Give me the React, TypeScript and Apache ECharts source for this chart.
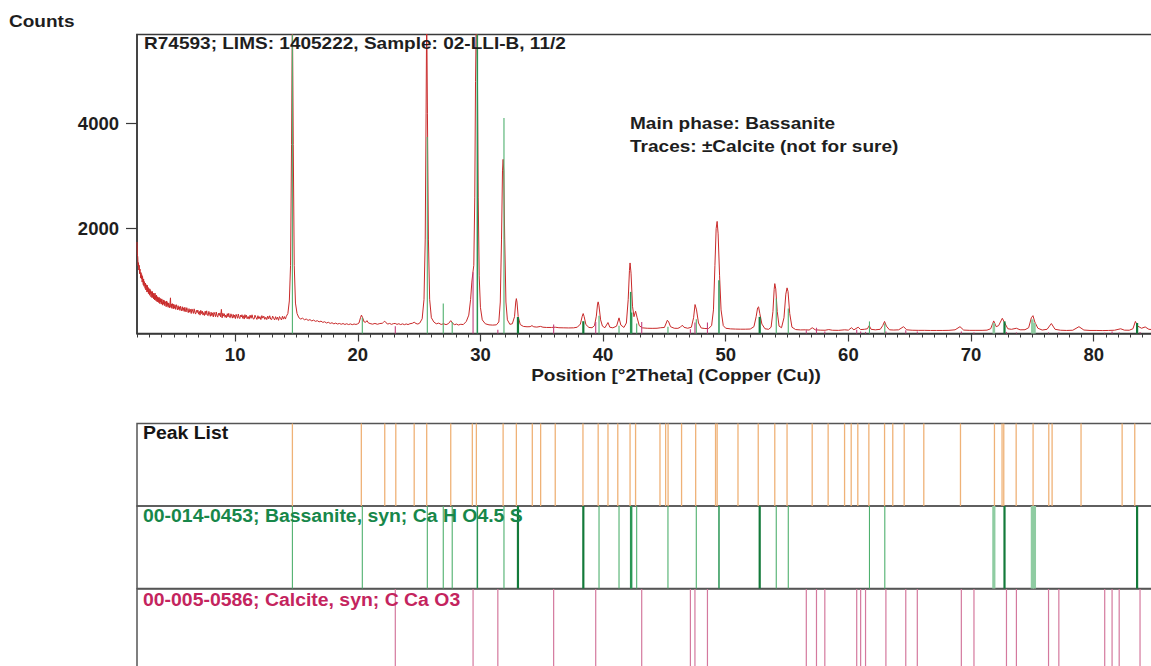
import React, { useEffect, useRef } from "react";
import * as echarts from "echarts";

// ---------- data ----------
const X_MIN = 2;
const X_MAX = 85;
const Y_MIN = 0;
const Y_MAX = 5700;

const X_TICK_LABELS = [10, 20, 30, 40, 50, 60, 70, 80];
const Y_TICK_LABELS = [2000, 4000];

// observed pattern [°2Theta, counts]
const PATTERN: [number, number][] = [
  [2.0, 1745], [2.03, 1500], [2.06, 1460], [2.09, 1290], [2.12, 1350], [2.15, 1210], [2.18, 1300], [2.21, 1140],
  [2.24, 1230], [2.27, 1180], [2.3, 1060], [2.33, 1160], [2.36, 1040], [2.39, 1120], [2.42, 980], [2.45, 1090],
  [2.48, 1010], [2.51, 930], [2.54, 1040], [2.57, 900], [2.6, 990], [2.63, 950], [2.66, 860], [2.69, 960],
  [2.72, 830], [2.75, 930], [2.78, 880], [2.81, 790], [2.84, 920], [2.87, 800], [2.9, 880], [2.93, 760],
  [2.96, 860], [2.99, 820], [3.02, 730], [3.05, 850], [3.08, 760], [3.11, 820], [3.14, 700], [3.17, 800],
  [3.2, 760], [3.23, 680], [3.26, 800], [3.29, 700], [3.32, 770], [3.35, 660], [3.38, 760], [3.41, 720],
  [3.44, 640], [3.47, 770], [3.5, 650], [3.53, 720], [3.56, 620], [3.59, 730], [3.62, 670], [3.65, 600],
  [3.68, 700], [3.71, 620], [3.74, 680], [3.77, 590], [3.8, 690], [3.83, 640], [3.86, 570], [3.89, 670],
  [3.92, 600], [3.95, 650], [3.98, 560], [4.02, 660], [4.06, 610], [4.1, 540], [4.14, 640], [4.18, 560],
  [4.22, 630], [4.26, 530], [4.3, 610], [4.34, 580], [4.38, 510], [4.42, 620], [4.46, 530], [4.5, 590],
  [4.54, 500], [4.58, 580], [4.62, 550], [4.66, 490], [4.7, 600], [4.73, 680], [4.76, 500], [4.8, 560],
  [4.84, 480], [4.88, 570], [4.92, 520], [4.96, 470], [5.0, 560], [5.05, 480], [5.1, 540], [5.15, 460],
  [5.2, 550], [5.25, 500], [5.3, 450], [5.35, 530], [5.4, 460], [5.45, 510], [5.5, 440], [5.55, 520],
  [5.6, 470], [5.65, 430], [5.7, 510], [5.75, 440], [5.8, 490], [5.85, 420], [5.9, 500], [5.95, 450],
  [6.0, 410], [6.06, 492], [6.12, 440], [6.18, 397], [6.24, 474], [6.3, 406], [6.36, 459], [6.42, 381],
  [6.48, 468], [6.54, 426], [6.6, 383], [6.66, 470], [6.72, 398], [6.78, 370], [6.84, 442], [6.9, 399],
  [6.96, 447], [7.02, 369], [7.08, 422], [7.14, 350], [7.2, 442], [7.26, 380], [7.32, 428], [7.38, 351],
  [7.44, 399], [7.5, 343], [7.56, 426], [7.62, 359], [7.68, 432], [7.74, 350], [7.8, 338], [7.86, 421],
  [7.92, 370], [7.98, 328], [8.04, 406], [8.1, 340], [8.16, 393], [8.22, 316], [8.28, 404], [8.34, 363],
  [8.4, 321], [8.46, 410], [8.52, 338], [8.58, 312], [8.64, 385], [8.7, 344], [8.76, 392], [8.82, 316],
  [8.88, 460], [8.94, 299], [9.0, 387], [9.06, 332], [9.12, 377], [9.18, 308], [9.24, 352], [9.3, 302],
  [9.36, 377], [9.42, 318], [9.48, 384], [9.54, 311], [9.6, 300], [9.66, 375], [9.72, 330], [9.78, 293],
  [9.84, 364], [9.9, 304], [9.96, 352], [10.02, 284], [10.08, 364], [10.14, 327], [10.2, 290], [10.26, 370],
  [10.32, 306], [10.38, 284], [10.44, 350], [10.5, 314], [10.56, 358], [10.62, 289], [10.68, 338], [10.74, 275],
  [10.8, 359], [10.86, 304], [10.92, 349], [10.98, 280], [11.06, 324], [11.14, 274], [11.22, 349], [11.3, 290],
  [11.38, 356], [11.46, 284], [11.54, 274], [11.62, 349], [11.7, 305], [11.78, 268], [11.86, 339], [11.94, 280],
  [12.02, 322], [12.1, 265], [12.18, 341], [12.26, 292], [12.34, 331], [12.42, 270], [12.5, 310], [12.58, 265],
  [12.66, 332], [12.74, 279], [12.82, 338], [12.9, 273], [12.98, 265], [13.06, 332], [13.14, 291], [13.22, 258],
  [13.3, 321], [13.38, 269], [13.46, 312], [13.54, 251], [13.62, 323], [13.7, 290], [13.78, 258], [13.86, 330],
  [13.94, 274], [14.02, 322], [14.1, 275], [14.18, 330],
  [14.3, 380], [14.42, 620], [14.52, 1300], [14.6, 3600], [14.67, 6200], [14.74, 3600], [14.82, 1300],
  [14.92, 580], [15.05, 380],
  [15.2, 300], [15.35, 275], [15.5, 292], [15.65, 262], [15.8, 276], [15.95, 250], [16.1, 265], [16.25, 240],
  [16.4, 255], [16.55, 232], [16.7, 244], [16.85, 222], [17.0, 236], [17.15, 212], [17.3, 224], [17.45, 200],
  [17.6, 214], [17.75, 192], [17.9, 205], [18.05, 184], [18.2, 198], [18.35, 180], [18.5, 192], [18.65, 176],
  [18.8, 190], [18.95, 172], [19.1, 186], [19.25, 170], [19.4, 183], [19.55, 168], [19.7, 181], [19.85, 172],
  [20.0, 185], [20.1, 200], [20.22, 300], [20.3, 350], [20.4, 300], [20.52, 220], [20.65, 215], [20.75, 245],
  [20.85, 205], [21.0, 190], [21.2, 178], [21.4, 192], [21.6, 176], [21.8, 190], [22.0, 195], [22.1, 215],
  [22.2, 235], [22.3, 205], [22.45, 180], [22.6, 192], [22.75, 174], [22.9, 188], [23.05, 192], [23.2, 174],
  [23.35, 186], [23.5, 170], [23.65, 184], [23.8, 168], [23.95, 182], [24.1, 170], [24.25, 186], [24.45, 195],
  [24.6, 215], [24.75, 190], [24.9, 180], [25.05, 198],
  [25.25, 280], [25.4, 650], [25.5, 1800], [25.57, 4200], [25.62, 6200], [25.68, 4200],
  [25.76, 1800], [25.86, 650], [26.0, 300], [26.2, 220], [26.4, 185], [26.6, 198], [26.8, 172], [27.0, 186],
  [27.2, 168], [27.4, 190], [27.58, 245], [27.75, 190], [27.9, 168], [28.05, 180], [28.2, 162], [28.4, 176],
  [28.6, 170], [28.85, 230], [29.05, 350], [29.2, 650],
  [29.3, 980], [29.38, 1150], [29.46, 1300], [29.54, 2600], [29.6, 4800], [29.67, 6200], [29.75, 5200],
  [29.82, 2600], [29.9, 1100], [30.0, 500], [30.15, 260], [30.4, 185], [30.7, 165], [31.0, 160], [31.3, 165],
  [31.5, 220], [31.62, 600], [31.72, 1800], [31.8, 3100], [31.85, 3320], [31.9, 3100], [31.98, 1800],
  [32.08, 600], [32.2, 260], [32.4, 175], [32.6, 185], [32.78, 320], [32.88, 600], [32.93, 665], [32.98, 600],
  [33.08, 320], [33.25, 170], [33.5, 135], [33.8, 128], [34.05, 130], [34.2, 150], [34.35, 128], [34.6, 122],
  [34.9, 135], [35.1, 120], [35.4, 115], [35.8, 115], [36.1, 120], [36.4, 110], [36.8, 108], [37.2, 106],
  [37.6, 108], [37.9, 120], [38.15, 180], [38.3, 330], [38.38, 380], [38.46, 320], [38.6, 170], [38.85, 115],
  [39.1, 110], [39.3, 150], [39.45, 330], [39.55, 560], [39.6, 603], [39.66, 540], [39.8, 260], [39.95, 140],
  [40.15, 110], [40.4, 209], [40.55, 120], [40.8, 108], [41.1, 140], [41.3, 298], [41.45, 160], [41.7, 115],
  [41.9, 200], [42.05, 650], [42.15, 1200], [42.2, 1345], [42.28, 1150], [42.4, 520], [42.52, 320],
  [42.65, 425], [42.78, 300], [42.95, 150], [43.2, 108], [43.6, 100], [44.0, 98], [44.4, 100], [44.7, 110],
  [45.0, 115], [45.15, 200], [45.24, 253], [45.35, 220], [45.5, 130], [45.8, 100], [46.1, 98], [46.3, 120],
  [46.46, 158], [46.6, 118], [46.9, 100], [47.2, 120], [47.38, 300], [47.5, 552], [47.62, 450], [47.78, 200],
  [48.0, 105], [48.3, 95], [48.6, 95], [48.85, 150], [49.0, 450], [49.12, 1300], [49.22, 2000], [49.3, 2137],
  [49.38, 1900], [49.5, 1100], [49.62, 450], [49.8, 150], [50.0, 100], [50.4, 88], [50.8, 84], [51.2, 82],
  [51.6, 82], [52.0, 85], [52.3, 130], [52.48, 320], [52.6, 490], [52.68, 508], [52.78, 380], [52.95, 180],
  [53.2, 90], [53.5, 80], [53.7, 120], [53.85, 420], [53.95, 840], [54.0, 951], [54.08, 850], [54.2, 420],
  [54.35, 140], [54.55, 110], [54.75, 300], [54.9, 750], [55.0, 870], [55.08, 800], [55.22, 380], [55.4, 120],
  [55.7, 75], [56.1, 68], [56.5, 70], [56.8, 66], [57.05, 110], [57.3, 70], [57.7, 64], [58.1, 62],
  [58.4, 75], [58.7, 62], [59.2, 60], [59.7, 70], [60.0, 64], [60.25, 110], [60.45, 70], [60.8, 120],
  [61.0, 75], [61.3, 80], [61.55, 90], [61.7, 150], [61.85, 80], [62.2, 70], [62.6, 80], [62.8, 150],
  [62.95, 230], [63.1, 140], [63.35, 70], [63.7, 66], [64.1, 70], [64.5, 130], [64.75, 70], [65.2, 62],
  [65.7, 60], [66.2, 60], [66.7, 58], [67.2, 58], [67.7, 58], [68.2, 60], [68.7, 70], [69.1, 130],
  [69.4, 65], [69.9, 60], [70.4, 60], [70.9, 60], [71.3, 64], [71.6, 90], [71.85, 240], [72.05, 130],
  [72.25, 150], [72.55, 290], [72.75, 200], [73.0, 90], [73.3, 80], [73.7, 100], [74.0, 70], [74.4, 72],
  [74.7, 110], [74.92, 300], [75.05, 340], [75.2, 220], [75.45, 100], [75.8, 66], [76.2, 80], [76.55, 190],
  [76.85, 80], [77.3, 62], [77.8, 58], [78.3, 62], [78.8, 130], [79.2, 66], [79.7, 58], [80.2, 58],
  [80.7, 56], [81.2, 58], [81.7, 62], [82.2, 90], [82.5, 64], [82.9, 62], [83.2, 90], [83.4, 230],
  [83.6, 140], [83.9, 100], [84.2, 125], [84.5, 80], [85.0, 70],
];

// reference pattern 00-014-0453 Bassanite
const BASSANITE_POS = [14.67, 20.37, 25.67, 26.97, 27.7, 29.75, 31.92, 33.06, 38.39, 39.67, 41.3, 42.25, 42.33,
  42.74, 45.29, 47.6, 49.45, 52.77, 54.12, 55.1, 61.72, 62.97, 71.86, 72.73, 75.0, 75.17, 83.54];
const BASSANITE_COUNTS = [6000, 300, 3745, 570, 220, 6000, 4110, 314, 234, 340, 150, 793, 400,
  190, 130, 272, 1015, 317, 666, 475, 230, 190, 200, 230, 270, 200, 200];
// line emphasis class (1 light, 2 medium, 3 strong, 4 doublet band)
const BASSANITE_CLASS = [1, 1, 1, 1, 1, 2, 1, 3, 3, 1, 1, 2, 2,
  1, 1, 1, 2, 3, 1, 1, 1, 1, 4, 3, 4, 4, 3];

// reference pattern 00-005-0586 Calcite
const CALCITE_POS = [23.06, 29.4, 31.42, 35.97, 39.4, 43.15, 47.12, 47.49, 48.51, 56.57, 57.4, 58.08, 60.68,
  61.0, 61.4, 63.06, 64.68, 65.62, 69.21, 70.24, 72.89, 73.7, 76.32, 77.16, 80.9, 81.5, 82.08, 83.78];
const CALCITE_COUNTS = [140, 1170, 70, 170, 220, 220, 80, 210, 210, 60, 110, 40, 70,
  40, 30, 40, 60, 40, 40, 20, 30, 20, 20, 20, 15, 40, 20, 30];

// peak list
const PEAK_LIST = [14.67, 20.29, 22.2, 23.1, 24.6, 25.62, 27.58, 29.34, 29.67, 31.85, 32.93, 34.23, 34.91,
  36.1, 38.36, 39.6, 40.4, 41.2, 42.2, 42.65, 44.64, 45.1, 45.3, 46.4, 47.55, 49.17, 49.3, 51.0, 52.65,
  54.0, 55.0, 57.05, 58.35, 59.69, 60.23, 60.77, 61.67, 62.95, 63.62, 64.55, 66.15, 69.14, 71.91, 72.53,
  72.67, 73.68, 75.06, 76.34, 76.61, 78.97, 82.32, 83.35];

// ---------- styles ----------
const FONT = "'Liberation Sans', Arial, Helvetica, sans-serif";
const AXIS_COLOR = "#3a3a3a";
const TEXT_COLOR = "#1e1e1e";
const GREEN_STYLE: Record<number, { color: string; width: number }> = {
  1: { color: "#4fb06e", width: 1.1 },
  2: { color: "#2a9655", width: 1.5 },
  3: { color: "#137a3a", width: 2.2 },
  4: { color: "#8fcca2", width: 3.2 },
};
const PINK_MAIN = "#c2407e";
const PINK_LIST = "#d4799e";
const ORANGE_LIST = "#efb277";

const GRID_LEFT = 137;
const GRID_WIDTH = 1018;

function stickSeries(
  name: string,
  pos: number[],
  values: number[],
  styleOf: (i: number) => { color: string; width: number },
  cap: number,
) {
  return {
    type: "custom",
    name,
    data: pos.map((p, i) => [p, values[i]]),
    encode: { x: 0, y: 1 },
    silent: true,
    z: 3,
    renderItem: (params: any, api: any) => {
      const x = api.value(0);
      const v = Math.min(api.value(1), cap);
      const a = api.coord([x, 0]);
      const b = api.coord([x, v]);
      const s = styleOf(params.dataIndex);
      return {
        type: "line",
        shape: { x1: a[0], y1: a[1], x2: b[0], y2: b[1] },
        style: { stroke: s.color, lineWidth: s.width },
      };
    },
  };
}

function txt(
  text: string,
  x: number,
  y: number,
  opts: { size?: number; scaleX?: number; color?: string; align?: string } = {},
) {
  return {
    type: "text",
    x,
    y,
    scaleX: opts.scaleX ?? 1.12,
    z: 100,
    silent: true,
    style: {
      text,
      fontSize: opts.size ?? 17,
      fontWeight: "bold",
      fontFamily: FONT,
      fill: opts.color ?? TEXT_COLOR,
      textAlign: opts.align ?? "left",
      align: opts.align ?? "left",
      textVerticalAlign: "middle",
      verticalAlign: "middle",
    },
  };
}

export default function App() {
  const ref = useRef<HTMLDivElement>(null);

  useEffect(() => {
    document.body.style.margin = "0";
    document.body.style.overflow = "hidden";
    const chart = echarts.init(ref.current!, null, { renderer: "svg" });

    const listRows = [423.5, 506, 589];
    const grids: any[] = [
      {
        left: GRID_LEFT, top: 34.5, width: GRID_WIDTH, height: 299,
        show: true, borderColor: AXIS_COLOR, borderWidth: 1.5, backgroundColor: "transparent",
        containLabel: false, outerBoundsMode: "none",
      },
      ...listRows.map((t) => ({
        left: GRID_LEFT, top: t, width: GRID_WIDTH, height: 82.5,
        show: true, borderColor: "#555", borderWidth: 1.5, backgroundColor: "transparent",
        containLabel: false, outerBoundsMode: "none",
      })),
    ];

    const hiddenX = (gi: number) => ({
      type: "value", gridIndex: gi, min: X_MIN, max: X_MAX, show: false,
    });
    const hiddenY = (gi: number) => ({
      type: "value", gridIndex: gi, min: 0, max: 1, show: false,
    });

    const option: any = {
      animation: false,
      backgroundColor: "#ffffff",
      grid: grids,
      xAxis: [
        {
          type: "value", gridIndex: 0, min: X_MIN, max: X_MAX, position: "bottom",
          axisLine: { show: true, lineStyle: { color: AXIS_COLOR, width: 1.5 } },
          axisTick: { show: true, customValues: X_TICK_LABELS, length: 8, lineStyle: { color: AXIS_COLOR, width: 1.2 } },
          axisLabel: {
            show: true, customValues: X_TICK_LABELS, fontSize: 18.5, fontWeight: "bold",
            fontFamily: FONT, color: TEXT_COLOR, margin: 11,
            formatter: (v: number) => String(v),
          },
          splitLine: { show: false },
        },
        {
          type: "value", gridIndex: 0, min: X_MIN, max: X_MAX, interval: 1, position: "bottom",
          axisLine: { show: false },
          axisTick: { show: true, length: 4, lineStyle: { color: AXIS_COLOR, width: 1 } },
          axisLabel: { show: false },
          splitLine: { show: false },
        },
        hiddenX(1),
        hiddenX(2),
        hiddenX(3),
      ],
      yAxis: [
        {
          type: "value", gridIndex: 0, min: Y_MIN, max: Y_MAX,
          axisLine: { show: true, lineStyle: { color: AXIS_COLOR, width: 1.5 } },
          axisTick: { show: true, customValues: Y_TICK_LABELS, length: 11, lineStyle: { color: AXIS_COLOR, width: 1.2 } },
          axisLabel: {
            show: true, customValues: Y_TICK_LABELS, fontSize: 18.5, fontWeight: "bold",
            fontFamily: FONT, color: TEXT_COLOR, margin: 18,
            formatter: (v: number) => String(v),
          },
          splitLine: { show: false },
        },
        hiddenY(1),
        hiddenY(2),
        hiddenY(3),
      ],
      series: [
        {
          type: "line",
          name: "Observed",
          xAxisIndex: 0,
          yAxisIndex: 0,
          data: PATTERN,
          showSymbol: false,
          symbol: "none",
          clip: true,
          lineStyle: { color: "#c92a2a", width: 1 },
          z: 2,
          silent: true,
        },
        // sticks in main plot
        {
          ...stickSeries("Bassanite", BASSANITE_POS, BASSANITE_COUNTS,
            (i) => {
              const s = GREEN_STYLE[BASSANITE_CLASS[i]];
              return { color: s.color, width: Math.min(s.width, 2.6) };
            }, Y_MAX),
          xAxisIndex: 0, yAxisIndex: 0,
        },
        {
          ...stickSeries("Calcite", CALCITE_POS, CALCITE_COUNTS,
            () => ({ color: PINK_MAIN, width: 1.1 }), Y_MAX),
          xAxisIndex: 0, yAxisIndex: 0,
        },
        // peak list rows
        {
          ...stickSeries("Peak List", PEAK_LIST, PEAK_LIST.map(() => 1),
            () => ({ color: ORANGE_LIST, width: 1.3 }), 1),
          xAxisIndex: 2, yAxisIndex: 1,
        },
        {
          ...stickSeries("Bassanite list", BASSANITE_POS, BASSANITE_POS.map(() => 1),
            (i) => GREEN_STYLE[BASSANITE_CLASS[i]], 1),
          xAxisIndex: 3, yAxisIndex: 2,
        },
        {
          ...stickSeries("Calcite list", CALCITE_POS, CALCITE_POS.map(() => 1),
            () => ({ color: PINK_LIST, width: 1.2 }), 1),
          xAxisIndex: 4, yAxisIndex: 3,
        },
      ],
      graphic: [
        txt("Counts", 9, 21.2),
        txt("R74593; LIMS: 1405222, Sample: 02-LLI-B, 11/2", 144, 43.3),
        txt("Main phase: Bassanite", 630, 123.7),
        txt("Traces: \u00b1Calcite (not for sure)", 630, 146.3),
        txt("Position [\u00b02Theta] (Copper (Cu))", 676, 375, { align: "center" }),
        txt("Peak List", 143, 432.7, { size: 18.5, scaleX: 1.05, color: "#151515" }),
        txt("00-014-0453; Bassanite, syn; Ca H O4.5 S", 143, 516, { size: 18.5, scaleX: 1.05, color: "#17874a" }),
        txt("00-005-0586; Calcite, syn; C Ca O3", 143, 599.3, { size: 18.5, scaleX: 1.05, color: "#c4245e" }),
      ],
    };

    chart.setOption(option);
    return () => chart.dispose();
  }, []);

  return <div ref={ref} style={{ width: 1151, height: 666 }} />;
}
